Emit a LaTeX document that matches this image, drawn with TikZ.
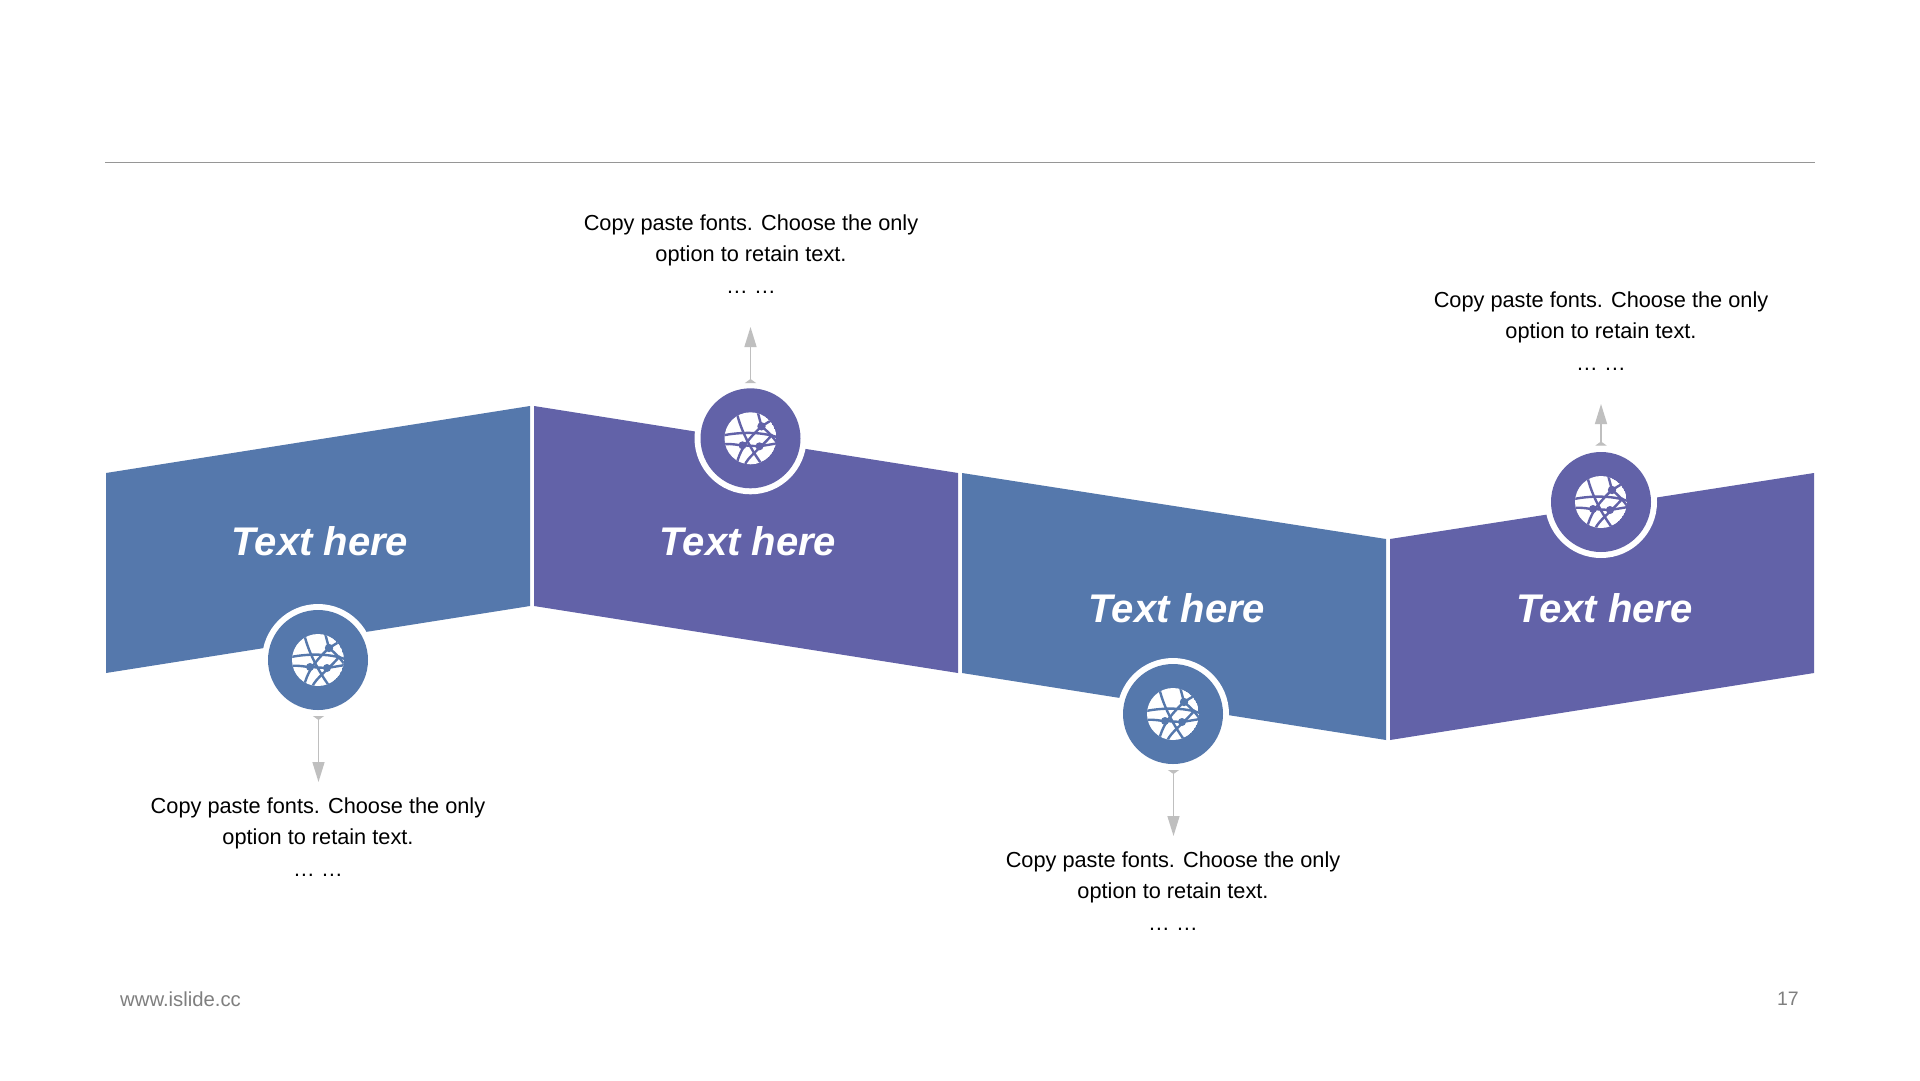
\documentclass[tikz,border=0pt]{standalone}
\usepackage{fontspec}
\setmainfont{Liberation Sans}
\usetikzlibrary{arrows.meta}
\definecolor{bluep}{HTML}{5578AC}
\definecolor{purp}{HTML}{6262A8}
\definecolor{arrowgray}{HTML}{BFBFBF}
\definecolor{rulegray}{HTML}{969696}
\definecolor{footgray}{HTML}{7F7F7F}
\tikzset{
  x=1pt,y=-1pt,
  panel/.style={fill=#1,draw=none},
  head/.style={font=\fontsize{40}{46}\selectfont\bfseries\itshape,text=white,inner sep=0pt,anchor=center},
  ring/.style={circle,fill=white,minimum size=112pt,inner sep=0pt},
  disc/.style={circle,fill=#1,minimum size=100pt,inner sep=0pt},
  desc/.style={font=\fontsize{21.75}{30.6}\selectfont,text=black,align=center,inner sep=0pt,anchor=north},
  foot/.style={text=footgray,inner sep=0pt},
  conn/.style={draw=arrowgray,line width=1.4pt,{Triangle[reversed,length=4pt,width=11pt]}-{Triangle[length=20pt,width=12pt]}},
}
\newcommand{\globe}[3]{%
 \begin{scope}[shift={(#1,#2)}]
  \begin{scope}
   \clip (0,0) circle (26);
   \fill[white] (0,0) circle (26);
   \begin{scope}[draw=#3,line width=2.4pt]
    \draw (-27,-3) .. controls (-12,-6) and (10,-7) .. (27,-1);
    \draw (-27,6) .. controls (-18,5) and (-13,7) .. (-8,7) -- (9,8) -- (27,5);
    \draw (-14,-27) .. controls (-11,-12) and (-2,8) .. (12,27);
    \draw (-14,26) .. controls (-11,14) and (-6,4) .. (11,-12);
    \draw (7,-27) -- (11,-12);
    \draw (11,-12) -- (24,-20);
    \draw (11,-12) .. controls (16,-8) and (22,-2) .. (27,5);
    \draw (-6,27) .. controls (-2,18) and (8,12) .. (22,-4);
   \end{scope}
   \fill[#3] (-8,7) circle (4) (9,8) circle (4) (11,-12) circle (4.2);
  \end{scope}
 \end{scope}}
\begin{document}
\begin{tikzpicture}
\useasboundingbox (0,0) rectangle (1920,1080);
\fill[white] (0,0) rectangle (1920,1080);
\coordinate (ruleL) at (105,162.5);
\coordinate (ruleR) at (1815,162.5);
\draw[rulegray,line width=1.1pt] (ruleL) -- (ruleR);

\fill[panel=bluep] (106,473) -- (530,406) -- (530,606) -- (106,673) -- cycle;
\fill[panel=purp] (534,406) -- (958,473) -- (958,673) -- (534,606) -- cycle;
\fill[panel=bluep] (962,473) -- (1386,539) -- (1386,740) -- (962,673) -- cycle;
\fill[panel=purp] (1390,539) -- (1814,473) -- (1814,673) -- (1390,740) -- cycle;

\node[head] (h1) at (320,541) {Text here};
\node[head] (h2) at (748,541) {Text here};
\node[head] (h3) at (1177,608) {Text here};
\node[head] (h4) at (1604.5,608) {Text here};

\node[ring] (r1) at (318,660) {};
\node[ring] (r2) at (750.5,438.3) {};
\node[ring] (r3) at (1173,714) {};
\node[ring] (r4) at (1601,502) {};
\node[disc=bluep] (c1) at (318,660) {};
\node[disc=purp] (c2) at (750.5,438.3) {};
\node[disc=bluep] (c3) at (1173,714) {};
\node[disc=purp] (c4) at (1601,502) {};
\globe{318}{660}{bluep}
\globe{750.5}{438.3}{purp}
\globe{1173}{714}{bluep}
\globe{1601}{502}{purp}

\node[desc] (t1) at (318,798) {Copy paste fonts. Choose the only\\option to retain text.\\[1.2pt]… …};
\node[desc] (t2) at (751,215) {Copy paste fonts. Choose the only\\option to retain text.\\[1.2pt]… …};
\node[desc] (t3) at (1173,852) {Copy paste fonts. Choose the only\\option to retain text.\\[1.2pt]… …};
\node[desc] (t4) at (1601,292) {Copy paste fonts. Choose the only\\option to retain text.\\[1.2pt]… …};

\coordinate (a1s) at (318.5,716);
\coordinate (a1e) at (318.5,782);
\coordinate (a2s) at (750.5,383);
\coordinate (a2e) at (750.5,327);
\coordinate (a3s) at (1173.5,770);
\coordinate (a3e) at (1173.5,836);
\coordinate (a4s) at (1601,445.5);
\coordinate (a4e) at (1601,404);
\draw[conn] (a1s) -- (a1e);
\draw[conn] (a2s) -- (a2e);
\draw[conn] (a3s) -- (a3e);
\draw[conn] (a4s) -- (a4e);

\node[foot,font=\fontsize{20.3}{22}\selectfont,anchor=west] (f1) at (120,999) {www.islide.cc};
\node[foot,font=\fontsize{19.5}{22}\selectfont,anchor=east] (f2) at (1799,999) {17};
\end{tikzpicture}
\end{document}
